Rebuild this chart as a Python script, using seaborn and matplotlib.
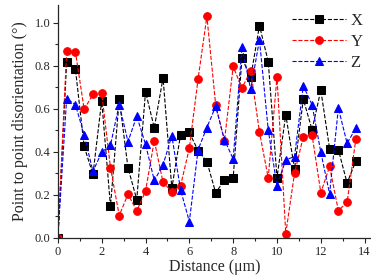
import numpy as np
import pandas as pd
import matplotlib
matplotlib.use("Agg")
import matplotlib.pyplot as plt
from matplotlib.ticker import MultipleLocator
import seaborn as sns

# distance steps (um)
distance = [0.0, 0.4, 0.8, 1.2, 1.6, 2.0, 2.4, 2.8, 3.2, 3.6, 4.0, 4.4,
            4.8, 5.2, 5.6, 6.0, 6.4, 6.8, 7.2, 7.6, 8.0, 8.4, 8.8, 9.2,
            9.6, 10.0, 10.4, 10.8, 11.2, 11.6, 12.0, 12.4, 12.8, 13.2, 13.6]

x_vals = [0.0, 0.817, 0.785, 0.425, 0.295, 0.638, 0.147, 0.646, 0.326, 0.178,
          0.679, 0.512, 0.744, 0.231, 0.48, 0.49, 0.405, 0.355, 0.21, 0.267,
          0.278, 0.836, 0.746, 0.987, 0.82, 0.28, 0.573, 0.32, 0.645, 0.503,
          0.687, 0.415, 0.41, 0.255, 0.358]

y_vals = [0.0, 0.867, 0.865, 0.598, 0.667, 0.673, 0.327, 0.104, 0.203, 0.126,
          0.217, 0.452, 0.258, 0.215, 0.243, 0.417, 0.74, 1.03, 0.62, 0.45,
          0.797, 0.696, 0.777, 0.492, 0.279, 0.749, 0.02, 0.30, 0.47, 0.479,
          0.21, 0.332, 0.127, 0.166, 0.46]

z_vals = [0.0, 0.647, 0.62, 0.479, 0.309, 0.398, 0.431, 0.62, 0.447, 0.566,
          0.435, 0.267, 0.339, 0.475, 0.223, 0.076, 0.41, 0.513, 0.611, 0.457,
          0.367, 0.887, 0.69, 0.921, 0.502, 0.242, 0.363, 0.378, 0.707, 0.619,
          0.398, 0.205, 0.603, 0.44, 0.51]

sns.set_style("ticks")
plt.rcParams['font.family'] = ['Liberation Serif', 'DejaVu Serif']

fig = plt.figure(figsize=(3.71, 2.75), dpi=100)
ax = fig.add_axes([0.156, 0.135, 0.844, 0.847])

series = [("X", x_vals, "black", "s"),
          ("Y", y_vals, "red", "o"),
          ("Z", z_vals, "blue", "^")]

for name, vals, col, mk in series:
    data = pd.DataFrame({"d": distance, "v": vals})
    sns.lineplot(data=data, x="d", y="v", ax=ax, color=col, marker=mk,
                 linestyle="--", linewidth=0.8, markersize=5.5,
                 markeredgecolor=col, label=name)

ax.set_xlim(0, 14.29)
ax.set_ylim(0, 1.083)
ax.xaxis.set_major_locator(MultipleLocator(2))
ax.xaxis.set_minor_locator(MultipleLocator(1))
ax.yaxis.set_major_locator(MultipleLocator(0.2))
ax.yaxis.set_minor_locator(MultipleLocator(0.1))
ax.yaxis.set_major_formatter(matplotlib.ticker.FormatStrFormatter('%.1f'))
ax.tick_params(axis='both', which='major', direction='out', length=3.5,
               width=0.8, labelsize=9, pad=2)
ax.tick_params(axis='both', which='minor', direction='out', length=2, width=0.8)

for s in ['top', 'right']:
    ax.spines[s].set_visible(False)
for s in ['left', 'bottom']:
    ax.spines[s].set_linewidth(0.9)

ax.set_xlabel("Distance (\u03bcm)", fontsize=11.5, labelpad=1)
ax.set_ylabel("Point to point disorientation (\u00b0)", fontsize=11.5, labelpad=5)

leg = ax.legend(loc="upper right", bbox_to_anchor=(1.0, 1.0), frameon=False,
                fontsize=12, handlelength=3.2, handletextpad=0.3,
                labelspacing=0.3, borderaxespad=0.1)

plt.savefig("out.png", dpi=100)
